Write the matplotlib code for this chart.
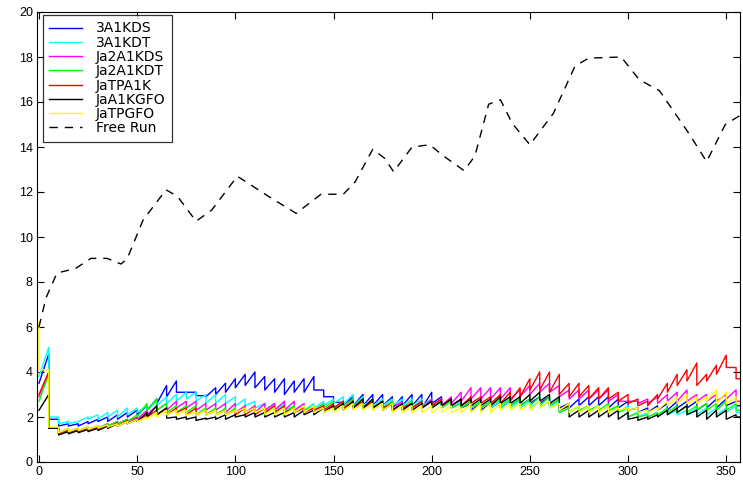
import matplotlib
matplotlib.use("Agg")
import matplotlib.pyplot as plt

# =========================
# data
# =========================
step = 5  # sample period of the sawtooth series

labels = ["3A1KDS", "3A1KDT", "Ja2A1KDS", "Ja2A1KDT", "JaTPA1K", "JaA1KGFO", "JaTPGFO"]
colors = ["#0000ff", "#00ffff", "#ff00ff", "#00ff00", "#ff0000", "#000000", "#ffff00"]

# value at x=0 before the first ramp
first = [3.5, 3.8, 2.9, 2.7, 3.0, 2.3, 6.2]

# low (start of ramp) / high (end of ramp) for each period
kds_3a_lo = [3.5, 1.9, 1.6, 1.6, 1.6, 1.7, 1.8, 1.8, 1.9, 2.0, 2.1, 2.3,
             2.6, 2.9, 3.1, 3.1, 2.95, 2.9, 3.0, 3.1, 3.3, 3.4, 3.3, 3.2,
             3.1, 3.0, 3.1, 3.1, 3.2, 2.9, 2.65, 2.5, 2.5, 2.5, 2.5, 2.5,
             2.4, 2.5, 2.5, 2.4, 2.6, 2.5, 2.4, 2.4, 2.3, 2.3, 2.4, 2.4,
             2.5, 2.5, 2.6, 2.6, 2.5, 2.4, 2.4, 2.5, 2.5, 2.5, 2.4, 2.4,
             2.3, 2.2, 2.2, 2.3, 2.3, 2.4, 2.4, 2.3, 2.4, 2.4, 2.5, 2.5]
kds_3a_hi = [4.8, 1.9, 1.7, 1.7, 1.8, 1.9, 2.0, 2.1, 2.2, 2.3, 2.5, 2.8,
             3.4, 3.6, 3.1, 3.1, 2.95, 3.3, 3.5, 3.7, 3.9, 4.0, 3.8, 3.7,
             3.7, 3.6, 3.7, 3.8, 3.2, 2.9, 2.65, 2.9, 3.0, 3.0, 3.0, 2.9,
             2.9, 3.0, 3.0, 3.1, 2.9, 2.8, 2.7, 2.6, 2.6, 2.6, 2.7, 2.7,
             2.8, 2.8, 2.9, 2.9, 2.8, 2.6, 2.8, 2.9, 2.9, 2.9, 2.8, 2.7,
             2.4, 2.4, 2.5, 2.6, 2.7, 2.7, 2.7, 2.6, 2.8, 2.8, 2.7, 2.5]

kdt_3a_lo = [3.8, 2.0, 1.7, 1.7, 1.8, 1.9, 1.9, 2.0, 2.0, 2.1, 2.2, 2.3,
             2.5, 2.6, 2.7, 2.8, 2.7, 2.6, 2.6, 2.6, 2.5, 2.5, 2.4, 2.3,
             2.3, 2.3, 2.3, 2.3, 2.4, 2.5, 2.6, 2.6, 2.5, 2.5, 2.5, 2.5,
             2.5, 2.5, 2.5, 2.5, 2.4, 2.4, 2.4, 2.4, 2.4, 2.4, 2.4, 2.4,
             2.4, 2.4, 2.4, 2.4, 2.4, 2.2, 2.2, 2.2, 2.2, 2.2, 2.2, 2.2,
             2.0, 2.0, 2.0, 2.1, 2.1, 2.1, 2.1, 2.1, 2.1, 2.1, 2.2, 2.2]
kdt_3a_hi = [5.1, 2.0, 1.8, 1.8, 2.0, 2.1, 2.2, 2.3, 2.4, 2.4, 2.5, 2.7,
             2.9, 3.0, 3.1, 3.1, 3.0, 3.0, 3.0, 2.9, 2.8, 2.7, 2.6, 2.6,
             2.6, 2.5, 2.5, 2.6, 2.7, 2.8, 2.9, 3.0, 2.9, 2.8, 2.8, 2.8,
             2.8, 2.8, 2.8, 2.8, 2.7, 2.7, 2.7, 2.7, 2.7, 2.7, 2.7, 2.7,
             2.7, 2.7, 2.7, 2.7, 2.7, 2.4, 2.5, 2.5, 2.5, 2.5, 2.5, 2.5,
             2.2, 2.2, 2.2, 2.3, 2.3, 2.3, 2.4, 2.4, 2.4, 2.4, 2.5, 2.2]

kds_ja2_lo = [2.9, 1.5, 1.3, 1.35, 1.4, 1.45, 1.5, 1.6, 1.7, 1.8, 1.9, 2.1,
              2.3, 2.3, 2.4, 2.4, 2.3, 2.3, 2.3, 2.2, 2.2, 2.2, 2.2, 2.3,
              2.3, 2.3, 2.3, 2.2, 2.2, 2.3, 2.4, 2.5, 2.5, 2.4, 2.4, 2.4,
              2.4, 2.4, 2.4, 2.4, 2.5, 2.5, 2.6, 2.7, 2.8, 2.8, 2.8, 2.8,
              2.8, 2.9, 3.0, 3.1, 3.1, 2.9, 2.8, 2.8, 2.8, 2.8, 2.7, 2.7,
              2.7, 2.6, 2.6, 2.6, 2.7, 2.7, 2.7, 2.7, 2.7, 2.7, 2.8, 2.7]
kds_ja2_hi = [4.0, 1.5, 1.5, 1.5, 1.55, 1.6, 1.7, 1.8, 1.9, 2.0, 2.3, 2.5,
              2.6, 2.7, 2.7, 2.7, 2.6, 2.6, 2.6, 2.6, 2.5, 2.5, 2.6, 2.6,
              2.7, 2.7, 2.6, 2.4, 2.4, 2.5, 2.7, 2.8, 2.8, 2.7, 2.7, 2.7,
              2.7, 2.7, 2.7, 2.8, 2.8, 2.9, 3.1, 3.3, 3.3, 3.3, 3.3, 3.3,
              3.2, 3.4, 3.5, 3.5, 3.4, 3.2, 3.2, 3.2, 3.2, 3.2, 3.0, 2.7,
              2.7, 2.8, 2.9, 3.0, 3.1, 3.2, 3.0, 3.0, 3.0, 3.0, 3.2, 2.7]

kdt_ja2_lo = [2.7, 1.5, 1.3, 1.35, 1.4, 1.45, 1.5, 1.6, 1.7, 1.8, 2.0, 2.3,
              2.3, 2.2, 2.2, 2.2, 2.1, 2.1, 2.1, 2.1, 2.1, 2.2, 2.2, 2.2,
              2.2, 2.2, 2.2, 2.3, 2.3, 2.4, 2.4, 2.5, 2.5, 2.4, 2.4, 2.4,
              2.3, 2.4, 2.4, 2.4, 2.4, 2.4, 2.4, 2.4, 2.4, 2.4, 2.5, 2.5,
              2.5, 2.5, 2.5, 2.5, 2.5, 2.2, 2.2, 2.3, 2.3, 2.3, 2.3, 2.2,
              2.0, 2.0, 2.0, 2.1, 2.2, 2.2, 2.2, 2.3, 2.3, 2.3, 2.3, 2.3]
kdt_ja2_hi = [3.9, 1.5, 1.45, 1.5, 1.55, 1.6, 1.7, 1.8, 1.9, 2.1, 2.6, 2.8,
              2.6, 2.5, 2.5, 2.5, 2.4, 2.4, 2.4, 2.4, 2.4, 2.4, 2.4, 2.4,
              2.5, 2.5, 2.5, 2.5, 2.6, 2.7, 2.7, 2.8, 2.8, 2.7, 2.7, 2.7,
              2.6, 2.7, 2.7, 2.7, 2.7, 2.7, 2.6, 2.7, 2.7, 2.7, 2.8, 2.8,
              2.8, 2.8, 2.9, 2.9, 2.8, 2.4, 2.5, 2.5, 2.5, 2.6, 2.5, 2.4,
              2.2, 2.1, 2.2, 2.4, 2.5, 2.5, 2.5, 2.6, 2.6, 2.7, 2.6, 2.3]

tpa_lo = [3.0, 1.5, 1.25, 1.3, 1.35, 1.4, 1.45, 1.5, 1.6, 1.7, 1.8, 2.0,
          2.1, 2.1, 2.2, 2.1, 2.1, 2.1, 2.1, 2.1, 2.1, 2.1, 2.1, 2.2,
          2.2, 2.2, 2.2, 2.2, 2.3, 2.3, 2.4, 2.4, 2.4, 2.4, 2.4, 2.4,
          2.3, 2.4, 2.4, 2.4, 2.5, 2.5, 2.5, 2.5, 2.6, 2.6, 2.6, 2.6,
          2.7, 2.9, 3.2, 3.2, 3.1, 3.0, 2.9, 2.9, 2.8, 2.8, 2.8, 2.7,
          2.6, 2.5, 2.5, 2.8, 3.1, 3.4, 3.6, 3.4, 3.6, 3.9, 4.2, 3.7]
tpa_hi = [4.0, 1.5, 1.4, 1.45, 1.5, 1.55, 1.65, 1.75, 1.85, 1.95, 2.1, 2.3,
          2.4, 2.4, 2.4, 2.4, 2.3, 2.3, 2.3, 2.3, 2.4, 2.4, 2.4, 2.5,
          2.5, 2.4, 2.4, 2.4, 2.5, 2.6, 2.7, 2.7, 2.7, 2.7, 2.7, 2.6,
          2.6, 2.6, 2.7, 2.7, 2.8, 2.8, 2.8, 2.9, 2.9, 2.9, 3.0, 3.1,
          3.3, 3.7, 4.0, 4.0, 3.9, 3.5, 3.5, 3.4, 3.3, 3.3, 3.1, 3.0,
          2.8, 2.7, 3.0, 3.5, 3.9, 4.1, 4.4, 3.9, 4.3, 4.75, 4.2, 3.7]

gfo_a1k_lo = [2.3, 1.5, 1.2, 1.25, 1.3, 1.35, 1.4, 1.5, 1.6, 1.7, 1.8, 2.0,
              2.1, 1.95, 1.9, 1.9, 1.85, 1.9, 1.9, 1.9, 2.0, 2.0, 2.0, 2.0,
              2.0, 2.0, 2.0, 2.1, 2.1, 2.2, 2.3, 2.3, 2.4, 2.4, 2.4, 2.3,
              2.3, 2.3, 2.3, 2.4, 2.4, 2.5, 2.5, 2.5, 2.5, 2.5, 2.5, 2.6,
              2.6, 2.6, 2.7, 2.7, 2.6, 2.3, 2.0, 2.0, 2.0, 2.0, 2.0, 1.9,
              1.9, 1.85, 1.9, 2.0, 2.1, 2.2, 2.1, 2.0, 1.9, 2.0, 1.9, 2.0]
gfo_a1k_hi = [3.0, 1.5, 1.35, 1.4, 1.45, 1.5, 1.6, 1.7, 1.8, 1.9, 2.2, 2.5,
              2.4, 2.0, 2.0, 2.0, 1.95, 2.0, 2.1, 2.1, 2.1, 2.2, 2.2, 2.2,
              2.2, 2.2, 2.3, 2.3, 2.4, 2.5, 2.6, 2.7, 2.8, 2.8, 2.7, 2.6,
              2.6, 2.6, 2.6, 2.7, 2.7, 2.8, 2.8, 2.8, 2.8, 2.8, 2.9, 2.9,
              2.9, 3.0, 3.1, 3.0, 2.9, 2.5, 2.3, 2.3, 2.3, 2.3, 2.3, 2.2,
              2.0, 2.0, 2.1, 2.3, 2.4, 2.5, 2.3, 2.3, 2.3, 2.3, 2.1, 2.0]

gfo_tp_lo = [4.1, 1.55, 1.3, 1.35, 1.4, 1.45, 1.5, 1.55, 1.6, 1.7, 1.8, 1.9,
             2.0, 2.1, 2.1, 2.1, 2.1, 2.1, 2.1, 2.1, 2.2, 2.2, 2.2, 2.1,
             2.1, 2.1, 2.2, 2.2, 2.2, 2.2, 2.2, 2.3, 2.3, 2.3, 2.3, 2.3,
             2.2, 2.2, 2.2, 2.2, 2.2, 2.2, 2.2, 2.2, 2.2, 2.2, 2.2, 2.3,
             2.3, 2.3, 2.3, 2.4, 2.4, 2.3, 2.2, 2.2, 2.2, 2.2, 2.2, 2.3,
             2.3, 2.2, 2.2, 2.3, 2.5, 2.6, 2.6, 2.6, 2.7, 2.6, 2.6, 2.6]
gfo_tp_hi = [4.1, 1.55, 1.5, 1.5, 1.55, 1.6, 1.65, 1.7, 1.8, 1.9, 2.0, 2.2,
             2.3, 2.3, 2.3, 2.2, 2.3, 2.3, 2.3, 2.3, 2.4, 2.4, 2.4, 2.4,
             2.4, 2.4, 2.5, 2.5, 2.4, 2.4, 2.5, 2.6, 2.6, 2.6, 2.6, 2.6,
             2.5, 2.5, 2.5, 2.5, 2.5, 2.5, 2.4, 2.6, 2.6, 2.6, 2.6, 2.6,
             2.6, 2.6, 2.7, 2.7, 2.6, 2.6, 2.5, 2.5, 2.5, 2.5, 2.4, 2.4,
             2.4, 2.3, 2.4, 2.7, 2.9, 3.0, 2.9, 2.9, 3.2, 3.1, 2.9, 2.6]

lows = [kds_3a_lo, kdt_3a_lo, kds_ja2_lo, kdt_ja2_lo, tpa_lo, gfo_a1k_lo, gfo_tp_lo]
highs = [kds_3a_hi, kdt_3a_hi, kds_ja2_hi, kdt_ja2_hi, tpa_hi, gfo_a1k_hi, gfo_tp_hi]

# free run (dashed)
fr_x = [0, 3.6, 9.2, 18.6, 26.5, 34.6, 41.8, 45, 53, 64.7, 70.6, 80, 88, 101,
        117, 131, 143.6, 155, 161, 170, 176, 180.6, 190, 199, 206, 216.5, 222,
        229, 235, 241, 250, 262, 273, 280, 296.5, 305.6, 316, 331, 340, 349.5, 357]
fr_y = [6.0, 7.3, 8.4, 8.6, 9.05, 9.05, 8.8, 9.05, 10.75, 12.1, 11.8, 10.7, 11.2, 12.7,
        11.8, 11.05, 11.9, 11.9, 12.45, 13.9, 13.5, 12.9, 14.0, 14.1, 13.6, 12.95, 13.6,
        15.9, 16.1, 15.05, 14.1, 15.5, 17.6, 17.95, 18.0, 17.0, 16.5, 14.6, 13.35, 15.0, 15.4]

xticks = [0, 50, 100, 150, 200, 250, 300, 350]
yticks = [0, 2, 4, 6, 8, 10, 12, 14, 16, 18, 20]


def sawtooth(y0, lo, hi):
    # ramp from lo to hi within each period, vertical drop at the boundary
    xs, ys = [0], [y0]
    for k in range(len(lo)):
        xs += [k * step, (k + 1) * step]
        ys += [lo[k], hi[k]]
    return xs, ys


# =========================
# plot
# =========================
plt.rcParams["font.family"] = ["Liberation Sans", "DejaVu Sans"]

fig = plt.figure(figsize=(7.43, 4.83), dpi=100)
ax = fig.add_axes([37 / 743, 21 / 483, 703 / 743, 450 / 483])

for i in range(len(labels)):
    xs, ys = sawtooth(first[i], lows[i], highs[i])
    ax.plot(xs, ys, color=colors[i], lw=1.0, label=labels[i])

ax.plot(fr_x, fr_y, color="black", lw=1.0, dashes=(6, 5), label="Free Run")

ax.set_xlim(-1, 357)
ax.set_ylim(0, 20)
ax.set_xticks(xticks)
ax.set_yticks(yticks)
ax.tick_params(direction="in", top=True, right=True, length=5, width=0.8,
               labelsize=9, pad=3)
for s in ax.spines.values():
    s.set_linewidth(0.8)

leg = ax.legend(loc="upper left", bbox_to_anchor=(0.008, 0.993),
                prop={"family": "DejaVu Sans", "size": 10},
                frameon=True, fancybox=False, edgecolor="black",
                borderaxespad=0, handlelength=2.4, handletextpad=1.0,
                labelspacing=0.02, borderpad=0.45)
leg.get_frame().set_linewidth(0.9)

plt.savefig("out.png", dpi=100)
plt.close()
